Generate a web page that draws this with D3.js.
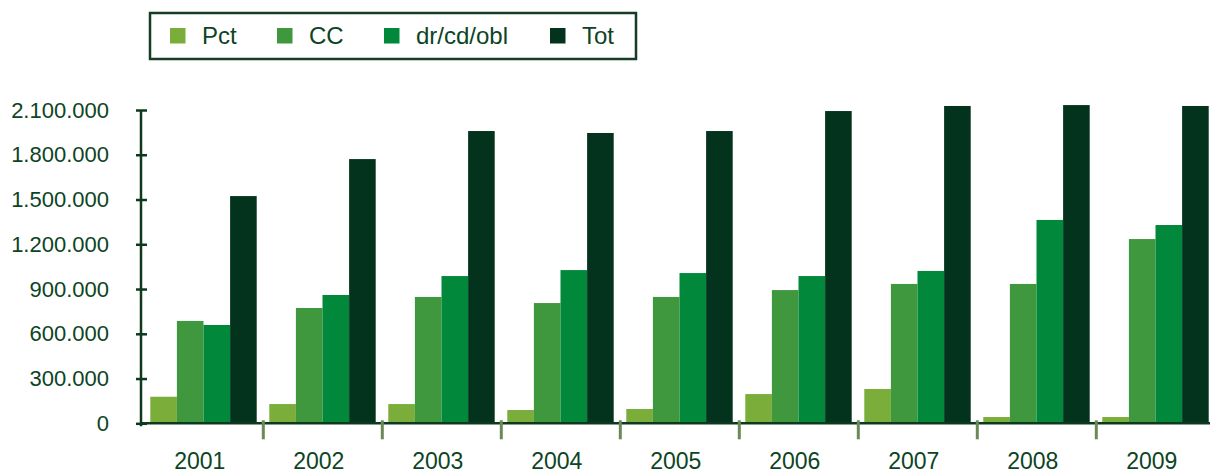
<!DOCTYPE html>
<html>
<head>
<meta charset="utf-8">
<script src="https://cdn.jsdelivr.net/npm/d3@7"></script>
<style>
  body { margin: 0; background: #fff; }
  svg { display: block; font-family: "Liberation Sans", Arial, sans-serif; }
</style>
</head>
<body>
<svg id="chart" width="1210" height="472"></svg>
<script>
// data
const years = ['2001', '2002', '2003', '2004', '2005', '2006', '2007', '2008', '2009'];
const seriesNames = ['Pct', 'CC', 'dr/cd/obl', 'Tot'];
const pct = [178000, 129000, 129000, 89000, 96000, 196000, 230000, 42000, 42000];
const cc = [686000, 773000, 847000, 806000, 847000, 893000, 934000, 934000, 1235000];
const drcdobl = [659000, 860000, 987000, 1027000, 1007000, 987000, 1021000, 1363000, 1329000];
const tot = [1523000, 1771000, 1959000, 1946000, 1959000, 2093000, 2127000, 2133000, 2127000];
const yTicks = [0, 300000, 600000, 900000, 1200000, 1500000, 1800000, 2100000];

const colors = ['#7bad3a', '#3f973e', '#01883b', '#03331d'];
const textColor = '#0c4424';
const axisColor = '#0d3a1e';

const values = [pct, cc, drcdobl, tot];
const rows = years.map((y, i) => ({
    year: y,
    vals: seriesNames.map((s, j) => ({ key: s, value: values[j][i] }))
}));

const svg = d3.select('#chart');
const fmt = d3.formatLocale({ decimal: ',', thousands: '.', grouping: [3], currency: ['', ''] }).format(',d');

const x = d3.scaleBand()
    .domain(years)
    .range([144.3, 144.3 + 119 * years.length]);
const x1 = d3.scaleBand()
    .domain(seriesNames)
    .range([6, 6 + 106.4]);
const y = d3.scaleLinear()
    .domain([0, 2100000])
    .range([423.3, 110]);
const color = d3.scaleOrdinal().domain(seriesNames).range(colors);

// bars
svg.append('g')
    .selectAll('g')
    .data(rows)
    .join('g')
    .attr('transform', d => `translate(${x(d.year)},0)`)
    .selectAll('rect')
    .data(d => d.vals)
    .join('rect')
    .attr('x', d => x1(d.key))
    .attr('width', x1.bandwidth())
    .attr('y', d => y(d.value))
    .attr('height', d => y(0) - y(d.value))
    .attr('fill', d => color(d.key));

// y axis
const yAxis = svg.append('g')
    .attr('transform', 'translate(141,0)')
    .call(d3.axisLeft(y).tickValues(yTicks).tickFormat(fmt).tickSize(5).tickPadding(27));
yAxis.select('.domain').remove();
yAxis.selectAll('.tick line')
    .attr('x1', -5).attr('x2', 6)
    .attr('stroke', axisColor).attr('stroke-width', 2.5);
yAxis.selectAll('.tick text')
    .attr('fill', textColor)
    .attr('font-size', 22);
yAxis.append('line')
    .attr('x1', 0).attr('x2', 0)
    .attr('y1', y(2100000)).attr('y2', y(0) + 3)
    .attr('stroke', axisColor).attr('stroke-width', 2.5);

// x axis
const xAxis = svg.append('g')
    .attr('transform', `translate(0,${y(0)})`)
    .call(d3.axisBottom(x).tickSize(0).tickPadding(29));
xAxis.select('.domain').remove();
xAxis.selectAll('.tick text')
    .attr('fill', textColor)
    .attr('font-size', 23)
    .attr('dx', -4);
svg.append('line')
    .attr('x1', 140).attr('x2', 1210)
    .attr('y1', y(0)).attr('y2', y(0))
    .attr('stroke', axisColor).attr('stroke-width', 2.5);
svg.append('g')
    .selectAll('line')
    .data(years.slice(1))
    .join('line')
    .attr('x1', d => x(d)).attr('x2', d => x(d))
    .attr('y1', y(0) - 3).attr('y2', y(0) + 16)
    .attr('stroke', '#6b8a58').attr('stroke-width', 3);

// legend
const legend = svg.append('g');
legend.append('rect')
    .attr('x', 150).attr('y', 13)
    .attr('width', 486).attr('height', 46)
    .attr('fill', 'none')
    .attr('stroke', '#163d24').attr('stroke-width', 2.5);
const legendX = [170, 277, 384, 550];
const item = legend.selectAll('g.item')
    .data(seriesNames)
    .join('g')
    .attr('class', 'item')
    .attr('transform', (d, i) => `translate(${legendX[i]},28)`);
item.append('rect')
    .attr('width', 15.5).attr('height', 15.5)
    .attr('fill', d => color(d));
item.append('text')
    .attr('x', 32).attr('y', 16)
    .attr('font-size', 24)
    .attr('fill', textColor)
    .text(d => d);
</script>
</body>
</html>
